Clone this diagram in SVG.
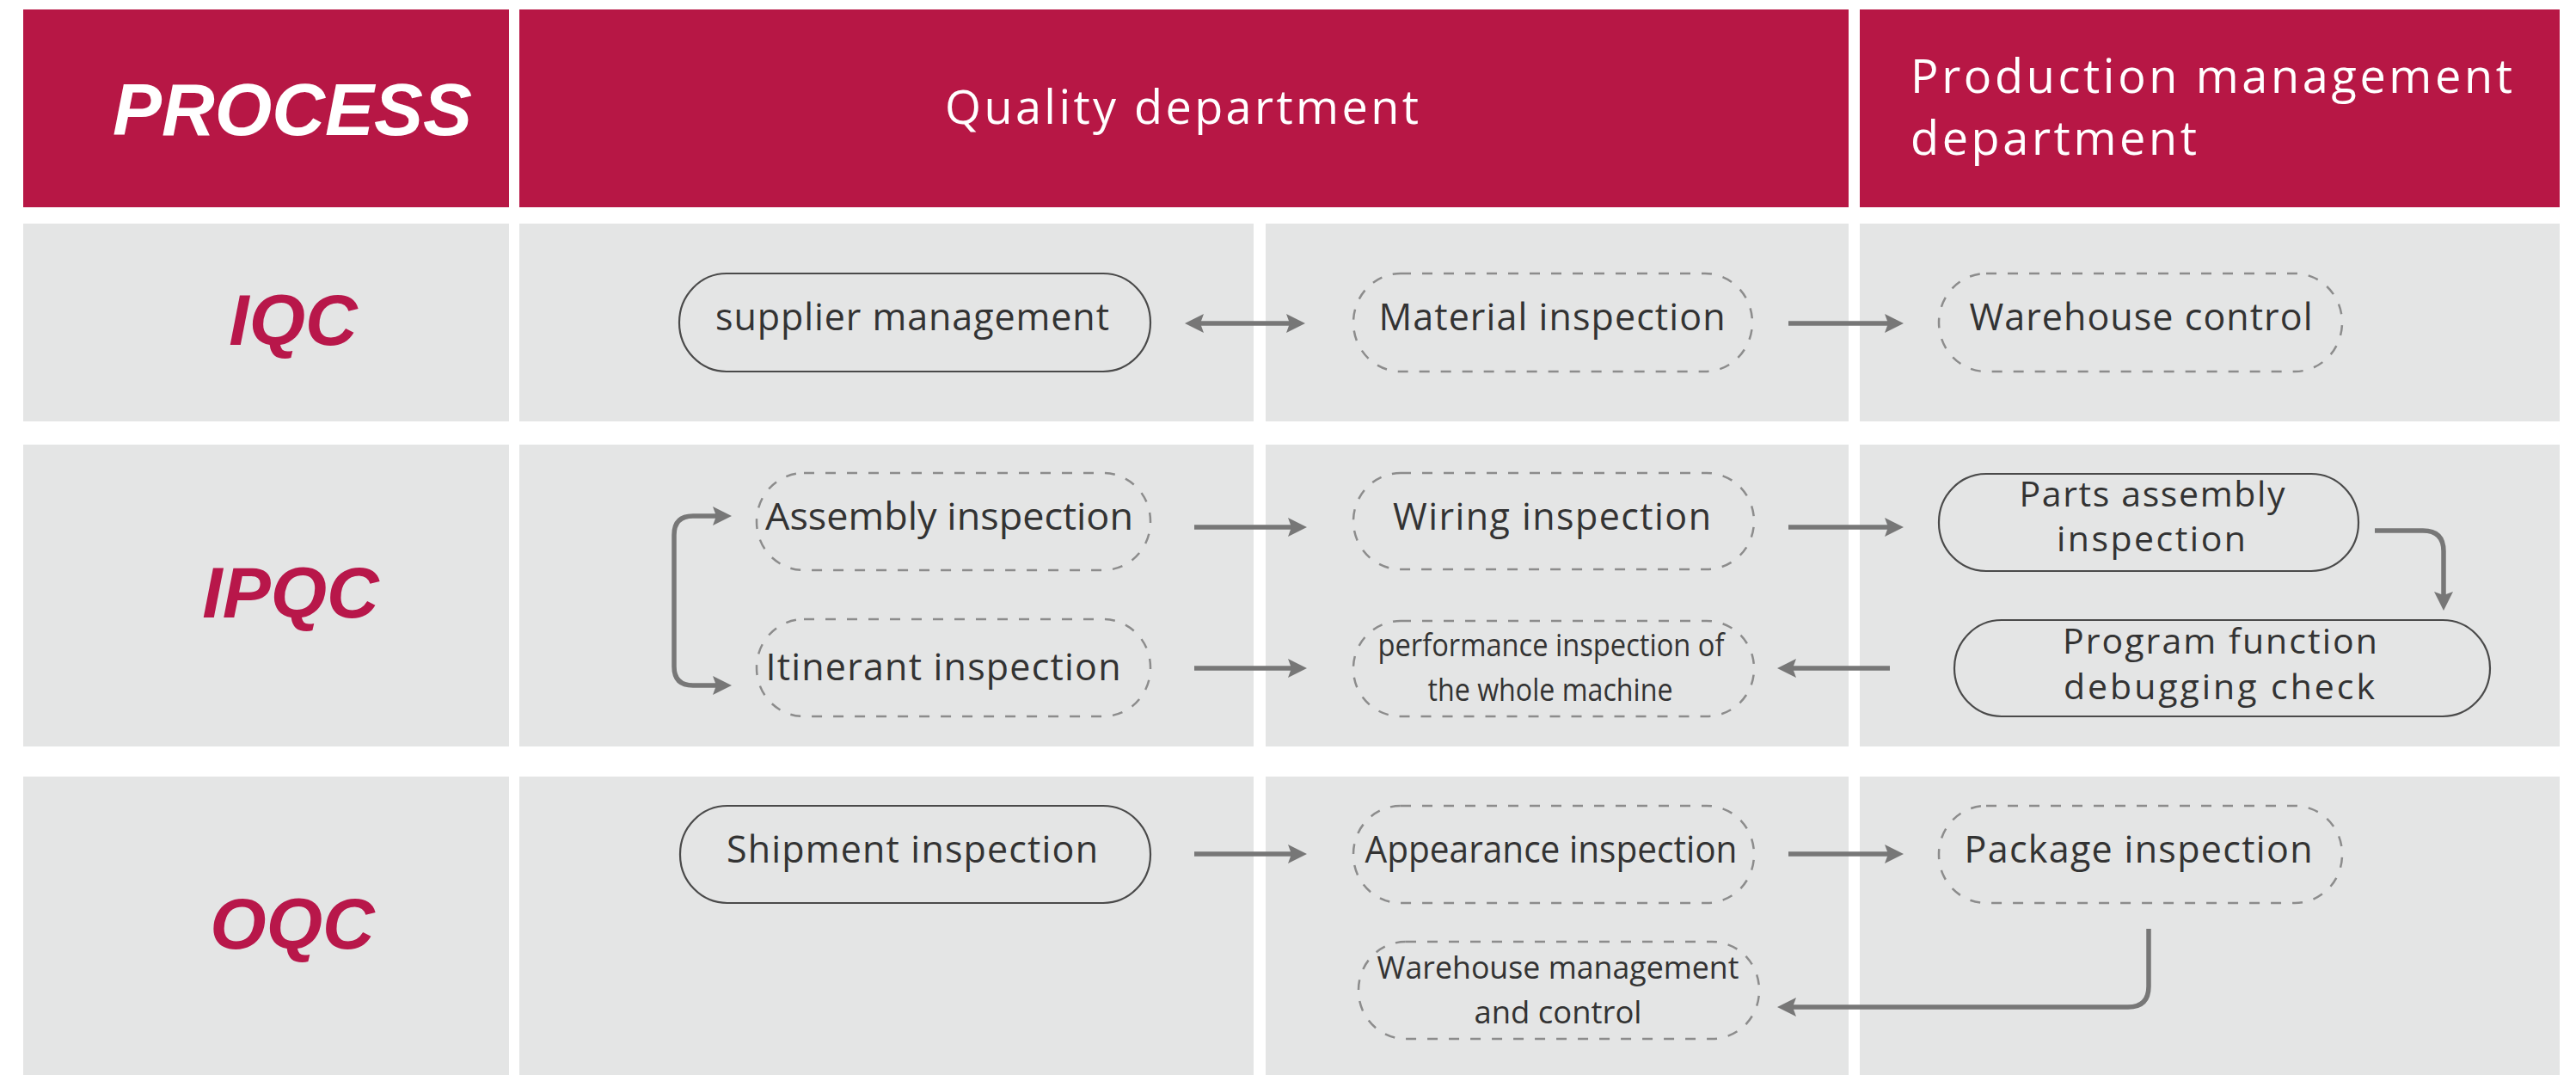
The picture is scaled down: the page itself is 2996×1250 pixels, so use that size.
<svg xmlns="http://www.w3.org/2000/svg" width="2996" height="1250" viewBox="0 0 2996 1250">
<defs>
<style>
.hdr{fill:#B71745}
.row{fill:#E4E5E5}
.proc{font-family:"Liberation Sans",Arial,sans-serif;font-weight:bold;font-style:italic;fill:#FFFFFF;font-size:86px}
.lbl{font-family:"Liberation Sans",Arial,sans-serif;font-weight:bold;font-style:italic;fill:#B8174A;font-size:84px;text-anchor:middle}
.dept{font-family:"Open Sans","Noto Sans",sans-serif;fill:#FFFFFF;font-size:54px}
.solid{fill:none;stroke:#4a4a4a;stroke-width:2.2}
.dash{fill:none;stroke:#8c8c8c;stroke-width:2.5;stroke-dasharray:12 13}
.t{font-family:"Open Sans","Noto Sans",sans-serif;fill:#333333;font-size:43px;text-anchor:middle}
.t3{font-family:"Open Sans","Noto Sans",sans-serif;fill:#333333;font-size:41px;text-anchor:middle}
.t2{font-family:"Open Sans","Noto Sans",sans-serif;fill:#333333;font-size:37px;text-anchor:middle}
.conn{fill:none;stroke:#777777;stroke-width:5.5}
</style>
<marker id="ah" viewBox="0 0 22 22" refX="12" refY="11" markerWidth="22" markerHeight="22" markerUnits="userSpaceOnUse" orient="auto-start-reverse">
<path d="M0,0 L22,11 L0,22 L4,11 z" fill="#777777"/>
</marker>
</defs>
<rect width="2996" height="1250" fill="#FFFFFF"/>

<g id="table">
<rect class="hdr" x="27" y="11" width="565" height="230"/>
<rect class="hdr" x="604" y="11" width="1546" height="230"/>
<rect class="hdr" x="2163" y="11" width="814" height="230"/>
<rect class="row" x="27" y="260" width="565" height="230"/>
<rect class="row" x="604" y="260" width="854" height="230"/>
<rect class="row" x="1472" y="260" width="678" height="230"/>
<rect class="row" x="2163" y="260" width="814" height="230"/>
<rect class="row" x="27" y="517" width="565" height="351"/>
<rect class="row" x="604" y="517" width="854" height="351"/>
<rect class="row" x="1472" y="517" width="678" height="351"/>
<rect class="row" x="2163" y="517" width="814" height="351"/>
<rect class="row" x="27" y="903" width="565" height="347"/>
<rect class="row" x="604" y="903" width="854" height="347"/>
<rect class="row" x="1472" y="903" width="678" height="347"/>
<rect class="row" x="2163" y="903" width="814" height="347"/>
</g>

<g id="headers">
<text class="proc" x="131" y="157" textLength="418" lengthAdjust="spacingAndGlyphs">PROCESS</text>
<text class="dept" x="1099" y="144" textLength="551" lengthAdjust="spacing">Quality department</text>
<text class="dept" x="2222" y="108" textLength="700" lengthAdjust="spacing">Production management</text>
<text class="dept" x="2222" y="180" textLength="333" lengthAdjust="spacing">department</text>
</g>

<g id="row-labels">
<text class="lbl" x="341" y="401">IQC</text>
<text class="lbl" x="338" y="718">IPQC</text>
<text class="lbl" x="340" y="1103">OQC</text>
</g>

<g id="connectors">
<line class="conn" x1="1388" y1="376" x2="1508" y2="376" marker-start="url(#ah)" marker-end="url(#ah)"/>
<line class="conn" x1="2080" y1="376" x2="2204" y2="376" marker-end="url(#ah)"/>
<path class="conn" d="M841,600 H806 Q784,600 784,622 V775 Q784,797 806,797 H841" marker-start="url(#ah)" marker-end="url(#ah)"/>
<line class="conn" x1="1389" y1="613" x2="1510" y2="613" marker-end="url(#ah)"/>
<line class="conn" x1="1389" y1="777" x2="1510" y2="777" marker-end="url(#ah)"/>
<line class="conn" x1="2080" y1="613" x2="2204" y2="613" marker-end="url(#ah)"/>
<path class="conn" d="M2762,617 H2818 Q2842,617 2842,641 V700" marker-end="url(#ah)"/>
<line class="conn" x1="2198" y1="777" x2="2077" y2="777" marker-end="url(#ah)"/>
<line class="conn" x1="1389" y1="993" x2="1510" y2="993" marker-end="url(#ah)"/>
<line class="conn" x1="2080" y1="993" x2="2204" y2="993" marker-end="url(#ah)"/>
<path class="conn" d="M2499,1080 V1147 Q2499,1171 2475,1171 H2077" marker-end="url(#ah)"/>
</g>

<g id="supplier-management">
<rect class="solid" x="790" y="318" width="548" height="114" rx="55" ry="57"/>
<text class="t" x="1061" y="384" textLength="458" lengthAdjust="spacing">supplier management</text>
</g>
<g id="material-inspection">
<rect class="dash" x="1574" y="318" width="464" height="114" rx="55" ry="57"/>
<text class="t" x="1805" y="384" textLength="403" lengthAdjust="spacing">Material inspection</text>
</g>
<g id="warehouse-control">
<rect class="dash" x="2255" y="318" width="469" height="114" rx="55" ry="57"/>
<text class="t" x="2490" y="384" textLength="399" lengthAdjust="spacing">Warehouse control</text>
</g>

<g id="assembly-inspection">
<rect class="dash" x="880" y="550" width="458" height="113" rx="55" ry="56"/>
<text class="t" x="1104" y="616" textLength="428" lengthAdjust="spacingAndGlyphs">Assembly inspection</text>
</g>
<g id="itinerant-inspection">
<rect class="dash" x="880" y="720" width="458" height="113" rx="55" ry="56"/>
<text class="t" x="1097" y="791" textLength="413" lengthAdjust="spacing">Itinerant inspection</text>
</g>
<g id="wiring-inspection">
<rect class="dash" x="1574" y="550" width="466" height="112" rx="55" ry="56"/>
<text class="t" x="1805" y="616" textLength="370" lengthAdjust="spacing">Wiring inspection</text>
</g>
<g id="performance-inspection">
<rect class="dash" x="1574" y="722" width="466" height="111" rx="55" ry="55"/>
<text class="t2" x="1804" y="763" textLength="403" lengthAdjust="spacingAndGlyphs">performance inspection of</text>
<text class="t2" x="1803" y="815" textLength="285" lengthAdjust="spacingAndGlyphs">the whole machine</text>
</g>
<g id="parts-assembly-inspection">
<rect class="solid" x="2255" y="551" width="488" height="113" rx="55" ry="56"/>
<text class="t3" x="2503" y="589" textLength="309" lengthAdjust="spacing">Parts assembly</text>
<text class="t3" x="2502" y="641" textLength="220" lengthAdjust="spacing">inspection</text>
</g>
<g id="program-function-debugging-check">
<rect class="solid" x="2273" y="721" width="623" height="112" rx="55" ry="56"/>
<text class="t3" x="2582" y="760" textLength="366" lengthAdjust="spacing">Program function</text>
<text class="t3" x="2581" y="813" textLength="362" lengthAdjust="spacing">debugging check</text>
</g>

<g id="shipment-inspection">
<rect class="solid" x="791" y="937" width="547" height="113" rx="55" ry="56"/>
<text class="t" x="1061" y="1003" textLength="432" lengthAdjust="spacing">Shipment inspection</text>
</g>
<g id="appearance-inspection">
<rect class="dash" x="1574" y="937" width="466" height="113" rx="55" ry="56"/>
<text class="t" x="1804" y="1003" textLength="433" lengthAdjust="spacingAndGlyphs">Appearance inspection</text>
</g>
<g id="package-inspection">
<rect class="dash" x="2255" y="937" width="469" height="113" rx="55" ry="56"/>
<text class="t" x="2487" y="1003" textLength="405" lengthAdjust="spacing">Package inspection</text>
</g>
<g id="warehouse-management-and-control">
<rect class="dash" x="1580" y="1095" width="466" height="113" rx="55" ry="56"/>
<text class="t2" x="1812" y="1138" textLength="421" lengthAdjust="spacingAndGlyphs">Warehouse management</text>
<text class="t2" x="1812" y="1190" textLength="195" lengthAdjust="spacingAndGlyphs">and control</text>
</g>
</svg>
